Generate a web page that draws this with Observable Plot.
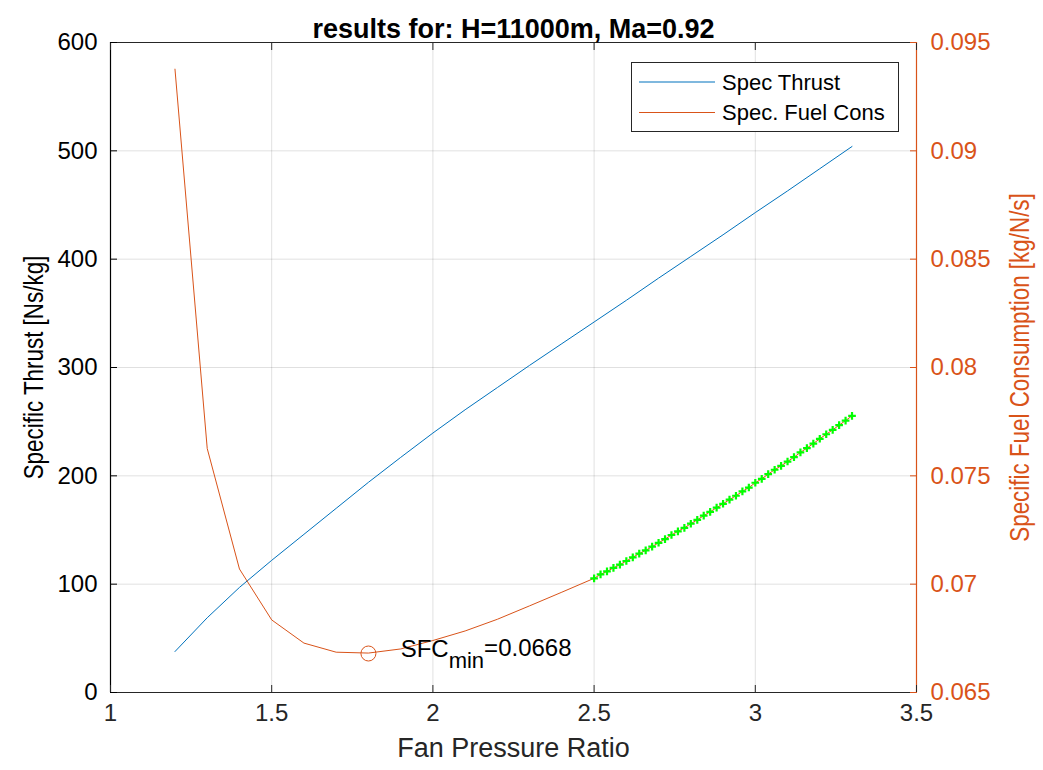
<!DOCTYPE html>
<html><head><meta charset="utf-8">
<script src="https://cdn.jsdelivr.net/npm/d3@7"></script>
<script src="https://cdn.jsdelivr.net/npm/@observablehq/plot@0.6"></script>
<style>
body{margin:0;background:#fff;font-family:"Liberation Sans",Arial,sans-serif;}
#wrap{position:relative;width:1043px;height:770px;}
#legend{position:absolute;left:631px;top:62px;width:268px;height:70px;border:1px solid #262626;background:#fff;box-sizing:border-box;}
#legend svg{display:block;}
</style></head><body><div id="wrap"><div id="chart"></div><div id="legend"></div></div>
<script>
// ---- data ----
const thrustFPR = [1.2,1.3,1.4,1.5,1.6,1.7,1.8,1.9,2.0,2.1,2.2,2.3,2.4,2.5,2.6,2.7,2.8,2.9,3.0,3.1,3.2,3.3];
const specThrust = [37.8,69,97,122,146,170,194,217,239.5,261,281.5,302,322,342,362,382.5,402.5,422.5,443,463,483.5,504];
const sfcFPR = [1.2,1.3,1.4,1.5,1.6,1.7,1.8,1.9,2.0,2.1,2.2,2.3,2.4];
const sfcValues = [0.09377,0.07626,0.0707,0.06835,0.06728,0.06686,0.06682,0.06701,0.0674,0.06784,0.06838,0.0690,0.06963];
const fineFPR = [2.5,2.52,2.54,2.56,2.58,2.6,2.62,2.64,2.66,2.68,2.7,2.72,2.74,2.76,2.78,2.8,2.82,2.84,2.86,2.88,2.9,2.92,2.94,2.96,2.98,3.0,3.02,3.04,3.06,3.08,3.1,3.12,3.14,3.16,3.18,3.2,3.22,3.24,3.26,3.28,3.3];
const fineSFC = [0.07027,0.07045,0.07059,0.07075,0.07090,0.07107,0.07124,0.07141,0.07156,0.07173,
                 0.07191,0.07208,0.07227,0.07244,0.07260,0.07279,0.07297,0.07316,0.07334,0.07353,
                 0.07371,0.07390,0.07408,0.07428,0.07446,0.07468,0.07486,0.07508,0.07528,0.07546,
                 0.07566,0.07586,0.07608,0.07628,0.07649,0.07671,0.07692,0.07712,0.07734,0.07755,
                 0.07777];
const xTicks = [1,1.5,2,2.5,3,3.5];
const leftTicks = [0,100,200,300,400,500,600];
const rightTicks = [0.065,0.07,0.075,0.08,0.085,0.09,0.095];
const leftDomain = [0,600];
const rightDomain = [0.065,0.095];
const xDomain = [1,3.5];
const sfcMinFPR = 1.8, sfcMin = 0.0668;
const seriesNames = ["Spec Thrust","Spec. Fuel Cons"];
const titleText = "results for: H=11000m, Ma=0.92";
const xLabel = "Fan Pressure Ratio";
const yLabelLeft = "Specific Thrust [Ns/kg]";
const yLabelRight = "Specific Fuel Consumption [kg/N/s]";

// ---- build ----
const blue = "#0072BD", orange = "#D95319", green = "#00FF00";
const toLeft = d3.scaleLinear(rightDomain, leftDomain);
const thrustData = thrustFPR.map((x,i)=>({x, y: specThrust[i]}));
const sfcData = sfcFPR.map((x,i)=>({x, y: toLeft(sfcValues[i])}))
  .concat(fineFPR.map((x,i)=>({x, y: toLeft(fineSFC[i])})));
const fineData = fineFPR.map((x,i)=>({x, y: toLeft(fineSFC[i])}));
const minData = [{x: sfcMinFPR, y: toLeft(sfcMin)}];
const labelData = [{x: 1.9, y: toLeft(sfcMin)}];
const font = '"Liberation Sans", Arial, sans-serif';

const chart = Plot.plot({
  width: 1043, height: 770,
  marginLeft: 110, marginRight: 127, marginTop: 42, marginBottom: 78,
  style: {fontFamily: font, background: "white", overflow: "visible"},
  x: {domain: xDomain},
  y: {domain: leftDomain},
  marks: [
    Plot.gridX(xTicks, {stroke: "#000", strokeOpacity: 0.12}),
    Plot.gridY(leftTicks, {stroke: "#000", strokeOpacity: 0.12}),
    Plot.line(thrustData, {x: "x", y: "y", stroke: blue, strokeWidth: 1}),
    Plot.line(sfcData, {x: "x", y: "y", stroke: orange, strokeWidth: 1}),
    Plot.dot(fineData, {x: "x", y: "y", symbol: "plus", r: 2.6, stroke: green, strokeWidth: 2.2}),
    Plot.dot(minData, {x: "x", y: "y", r: 7.5, stroke: orange, fill: "none", strokeWidth: 1}),
    Plot.text(labelData, {x: "x", y: "y", text: () => "SFC", textAnchor: "start", dy: -4, fontSize: 24, fill: "#000"}),
    Plot.frame({stroke: "#262626"}),
    Plot.ruleX([xDomain[0]], {stroke: "#000", strokeWidth: 1.2}),
    Plot.ruleX([xDomain[1]], {stroke: orange, strokeWidth: 1.2}),
    Plot.axisX(xTicks, {anchor: "bottom", tickSize: -7, tickPadding: 18, fontSize: 24, color: "#262626", tickFormat: d => String(d), label: null}),
    Plot.axisX(xTicks, {anchor: "top", tickSize: -7, tickFormat: () => "", color: "#262626", label: null}),
    Plot.axisY(leftTicks, {anchor: "left", tickSize: -7, tickPadding: 20, fontSize: 24, color: "#000", label: null}),
    Plot.axisY(rightTicks.map(toLeft), {anchor: "right", tickSize: -7, tickPadding: 21, fontSize: 24, color: orange,
      tickFormat: d => String(+toLeft.invert(d).toFixed(3)), label: null}),
    Plot.text([titleText], {frameAnchor: "top", dy: -23.5, fontSize: 27, fontWeight: "bold", fill: "#000"}),
    Plot.text([xLabel], {frameAnchor: "bottom", dy: 64, fontSize: 27, fill: "#262626"}),
    Plot.text([yLabelLeft], {frameAnchor: "left", textAnchor: "middle", dx: -76, rotate: -90, fontSize: 27, fill: "#000"}),
    Plot.text([yLabelRight], {frameAnchor: "right", textAnchor: "middle", dx: 104, rotate: -90, fontSize: 27, fill: orange})
  ]
});
document.getElementById("chart").appendChild(chart);

// condensed rotated axis titles (as in the reference)
d3.select(chart).selectAll("text")
  .filter(function() { return this.textContent === yLabelLeft || this.textContent === yLabelRight; })
  .each(function() {
    const tr = this.getAttribute("transform") || "";
    this.setAttribute("transform", tr + " scale(0.83,1)");
  });

// subscript annotation
d3.select(chart).selectAll("text").filter(function() { return this.textContent === "SFC"; })
  .each(function() {
    const t = d3.select(this);
    t.text("SFC");
    t.append("tspan").attr("dy", "0.5em").attr("font-size", 22).text("min");
    t.append("tspan").attr("dy", "-0.5em").text("=" + sfcMin);
  });

// legend
const colors = [blue, orange];
const lsvg = d3.select("#legend").append("svg").attr("width", 266).attr("height", 68)
  .style("font-family", font);
seriesNames.forEach((name, i) => {
  const cy = 19 + i * 30.5;
  lsvg.append("line").attr("x1", 7).attr("x2", 83).attr("y1", cy).attr("y2", cy)
    .attr("stroke", colors[i]).attr("stroke-width", 1.2);
  lsvg.append("text").attr("x", 90).attr("y", cy).attr("dy", "0.35em")
    .attr("font-size", 22).attr("fill", "#000").text(name);
});
</script>
</body></html>
